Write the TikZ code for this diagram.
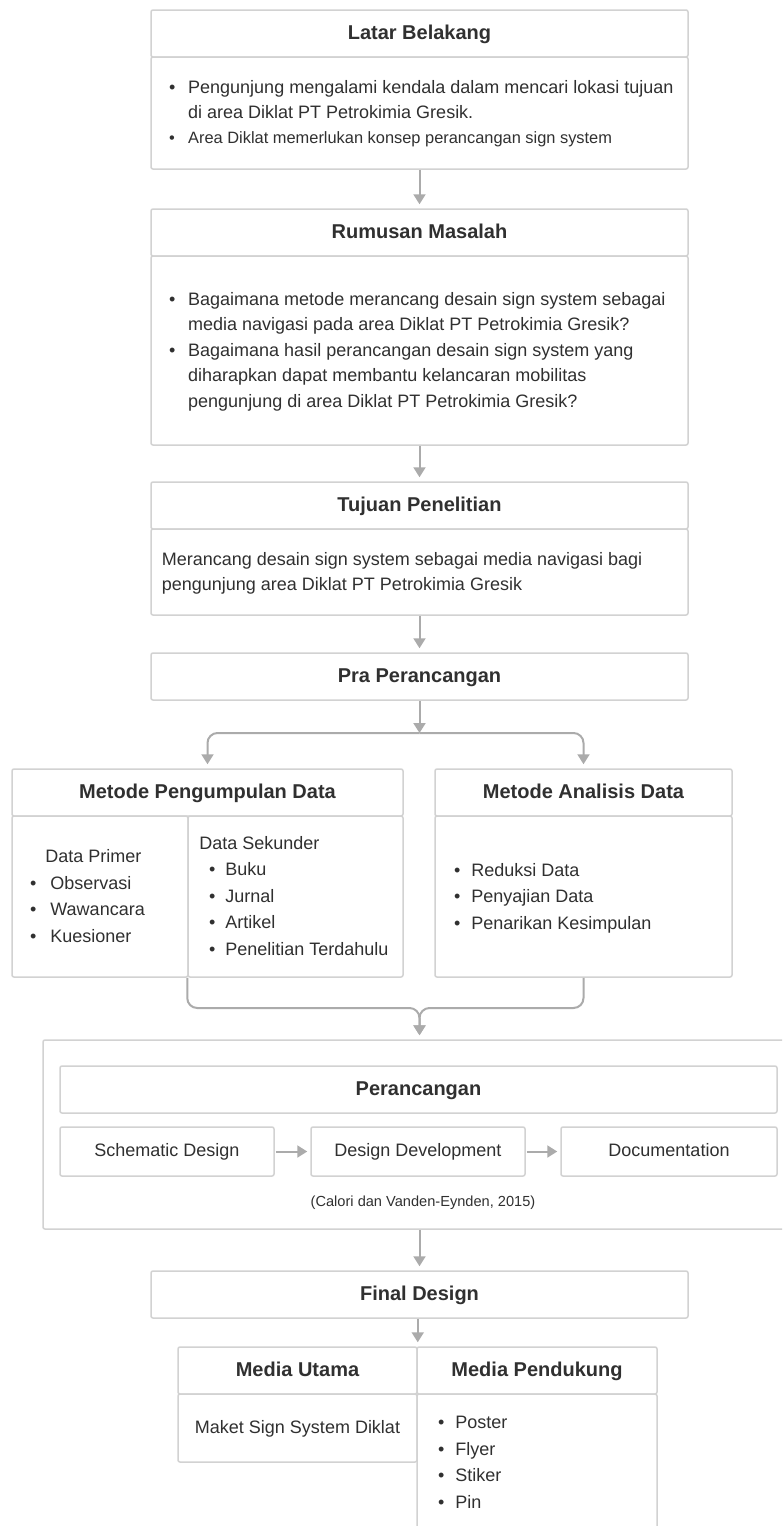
\documentclass[tikz,border=0pt]{standalone}
\usepackage{fontspec}
\setmainfont{Liberation Sans}
\usetikzlibrary{arrows.meta,calc}
\definecolor{bord}{HTML}{D2D2D2}
\definecolor{arr}{HTML}{ABABAB}
\definecolor{ink}{HTML}{303030}
\newcommand{\mybody}{\fontsize{9}{12.5}\selectfont}
\newcommand{\mytitle}{\fontsize{10}{12}\selectfont\bfseries}
\newcommand{\mybul}[1]{\makebox[#1][l]{\textbullet}}
\newcommand{\bxn}[7][box]{\node[#1, minimum width={(#5-#3)*0.5pt}, minimum height={(#6-#4)*0.5pt}] (#2) at ({(#3+#5)/2},{(#4+#6)/2}) {#7};}
\begin{document}
\begin{tikzpicture}[x=0.5pt,y=-0.5pt,
  box/.style={draw=bord, line width=0.75pt, rounded corners=1pt, inner sep=0pt, fill=white, text=ink, font=\mybody, text height=7.2pt, text depth=1.8pt},
  ttlbox/.style={box, font=\mytitle, text height=8pt, text depth=2pt},
  txt/.style={inner sep=0pt, text=ink, font=\mybody, align=left},
  conn/.style={draw=arr, line width=1pt, -{Triangle[width=6pt,length=5pt]}, shorten >=2pt}]
\useasboundingbox (0,0) rectangle (782,1526);
\clip (0,0) rectangle (782,1526);
\fill[white] (0,0) rectangle (782,1526);

% Latar Belakang
\bxn[ttlbox]{lbH}{151}{10}{688}{57}{Latar Belakang}
\bxn{lbB}{151}{57}{688}{169}{}
\node[txt, anchor=west] (lbT) at (168.8,113) {\begin{tabular}{@{}l@{}}
\mybul{9.5pt}Pengunjung mengalami kendala dalam mencari lokasi tujuan\\
\hspace{9.5pt}di area Diklat PT Petrokimia Gresik.\\
{\fontsize{8.2}{12.5}\selectfont\mybul{9.5pt}Area Diklat memerlukan konsep perancangan sign system}
\end{tabular}};

% Rumusan Masalah
\bxn[ttlbox]{rmH}{151}{209}{688}{256}{Rumusan Masalah}
\bxn{rmB}{151}{256}{688}{445}{}
\node[txt, anchor=west, font=\fontsize{9}{12.75}\selectfont] (rmT) at (168.8,351) {\begin{tabular}{@{}l@{}}
\mybul{9.5pt}Bagaimana metode merancang desain sign system sebagai\\
\hspace{9.5pt}media navigasi pada area Diklat PT Petrokimia Gresik?\\
\mybul{9.5pt}Bagaimana hasil perancangan desain sign system yang\\
\hspace{9.5pt}diharapkan dapat membantu kelancaran mobilitas\\
\hspace{9.5pt}pengunjung di area Diklat PT Petrokimia Gresik?
\end{tabular}};

% Tujuan Penelitian
\bxn[ttlbox]{tjH}{151}{482}{688}{529}{Tujuan Penelitian}
\bxn{tjB}{151}{529}{688}{615}{}
\node[txt, anchor=west] (tjT) at (161.5,572.5) {\begin{tabular}{@{}l@{}}
Merancang desain sign system sebagai media navigasi bagi\\
pengunjung area Diklat PT Petrokimia Gresik
\end{tabular}};

% Pra Perancangan
\bxn[ttlbox]{pra}{151}{653}{688}{700}{Pra Perancangan}

% Metode Pengumpulan Data
\bxn[ttlbox]{mpH}{12}{769}{403}{816}{Metode Pengumpulan Data}
\bxn{mpL}{12}{816}{188}{977}{}
\bxn{mpR}{188}{816}{403}{977}{}
\node[txt, anchor=west, font=\fontsize{9}{13.3}\selectfont] (mpLT) at (29.8,897) {\begin{tabular}{@{}l@{}}
\hspace{7.6pt}Data Primer\\
\mybul{10.1pt}Observasi\\
\mybul{10.1pt}Wawancara\\
\mybul{10.1pt}Kuesioner
\end{tabular}};
\node[txt, anchor=west, font=\fontsize{9}{13.25}\selectfont] (mpRT) at (199,897) {\begin{tabular}{@{}l@{}}
Data Sekunder\\
\hspace{4.9pt}\mybul{8.1pt}Buku\\
\hspace{4.9pt}\mybul{8.1pt}Jurnal\\
\hspace{4.9pt}\mybul{8.1pt}Artikel\\
\hspace{4.9pt}\mybul{8.1pt}Penelitian Terdahulu
\end{tabular}};

% Metode Analisis Data
\bxn[ttlbox]{maH}{435}{769}{732}{816}{Metode Analisis Data}
\bxn{maB}{435}{816}{732}{977}{}
\node[txt, anchor=west, font=\fontsize{9}{13.25}\selectfont] (maT) at (453.8,897.5) {\begin{tabular}{@{}l@{}}
\mybul{8.6pt}Reduksi Data\\
\mybul{8.6pt}Penyajian Data\\
\mybul{8.6pt}Penarikan Kesimpulan
\end{tabular}};

% Perancangan
\bxn{outer}{43}{1040}{800}{1229}{}
\bxn[ttlbox]{perH}{60}{1066}{777}{1113}{Perancangan}
\bxn{sd}{60}{1127}{274}{1176}{Schematic Design}
\bxn{dd}{311}{1127}{525}{1176}{Design Development}
\bxn{doc}{561}{1127}{777}{1176}{Documentation}
\node[txt, font=\fontsize{7.3}{9}\selectfont] (cite) at (423,1203) {(Calori dan Vanden-Eynden, 2015)};

% Final Design
\bxn[ttlbox]{fin}{151}{1271}{688}{1318}{Final Design}
\bxn[ttlbox]{muH}{178}{1347}{417}{1394}{Media Utama}
\bxn[ttlbox]{mdH}{417}{1347}{657}{1394}{Media Pendukung}
\bxn{muB}{178}{1394}{417}{1462}{Maket Sign System Diklat}
\bxn{mdB}{417}{1394}{657}{1545}{}
\node[txt, anchor=west, font=\fontsize{9}{13.3}\selectfont] (mdT) at (437.8,1463) {\begin{tabular}{@{}l@{}}
\mybul{8.6pt}Poster\\
\mybul{8.6pt}Flyer\\
\mybul{8.6pt}Stiker\\
\mybul{8.6pt}Pin
\end{tabular}};

% Connectors
\draw[conn] (lbB.south) -- (rmH.north);
\draw[conn] (rmB.south) -- (tjH.north);
\draw[conn] (tjB.south) -- (pra.north);
\coordinate (J1) at (419.5,733);
\draw[conn, shorten >=0pt] (pra.south) -- (J1);
\draw[conn, rounded corners=5pt] (J1) -| (mpH.north);
\draw[conn, rounded corners=5pt] (J1) -| (maH.north);
\coordinate (J2) at (419.5,1008);
\draw[conn, rounded corners=5pt] (mpR.south west) |- (J2) -- (J2 |- outer.north);
\draw[conn, rounded corners=5pt] (maB.south) |- (J2) -- (J2 |- outer.north);
\draw[conn, shorten <=0.5pt, shorten >=1.5pt] (sd) -- (dd);
\draw[conn, shorten <=0.5pt, shorten >=1.5pt] (dd) -- (doc);
\draw[conn] (fin.north |- outer.south) -- (fin.north);
\draw[conn] (muH.north east |- fin.south) -- (muH.north east);
\end{tikzpicture}
\end{document}
